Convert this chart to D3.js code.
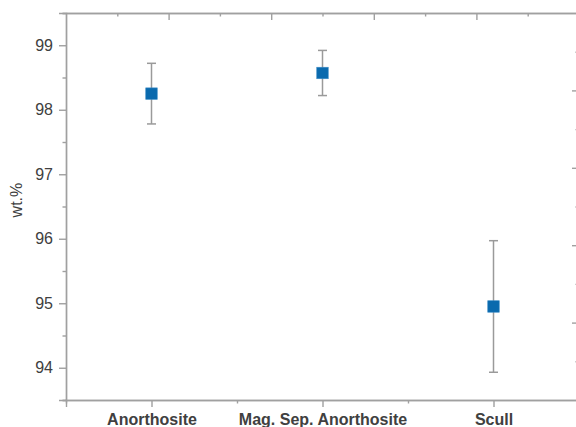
<!DOCTYPE html>
<html>
<head>
<meta charset="utf-8">
<script src="https://cdn.jsdelivr.net/npm/d3@7"></script>
<style>
  html, body { margin: 0; padding: 0; background: #fff; }
  svg { display: block; }
</style>
</head>
<body>
<svg id="chart" width="576" height="427"></svg>
<script>
const categories = ["Anorthosite", "Mag. Sep. Anorthosite", "Scull"];
const values = [98.25, 98.57, 94.95];
const errors = [0.47, 0.35, 1.02];
const yMajorTicks = [94, 95, 96, 97, 98, 99];
const yMinorTicks = [93.5, 94.5, 95.5, 96.5, 97.5, 98.5, 99.5];
const secMajorTicks = [1, 2, 3, 4];
const secMinorTicks = [0.5, 1.5, 2.5, 3.5, 4.5];
const yLabel = "wt.%";

(function () {
const svg = d3.select("#chart");
const mLeft = 66, mRight = 579, mTop = 13, mBottom = 400;
const axisColor = "#a0a0a0";
const textColor = "#404040";

const x = d3.scaleLinear().domain([0.5, 3.5]).range([mLeft, mRight]);
const y = d3.scaleLinear().domain([93.5, 99.5]).range([mBottom, mTop]);
const xTop = d3.scaleLinear().domain([0, 5]).range([mLeft, mRight]);
const yRight = d3.scaleLinear().domain([0, 5]).range([mBottom, mTop]);

function styleAxis(g) {
  g.selectAll("path.domain").attr("stroke", axisColor).attr("stroke-width", 1.4);
  g.selectAll(".tick line").attr("stroke", axisColor).attr("stroke-width", 1.4);
  g.selectAll(".tick text").attr("fill", textColor);
}

const gLeft = svg.append("g").attr("transform", `translate(${mLeft},0)`)
  .call(d3.axisLeft(y).tickValues(yMajorTicks).tickSize(7).tickPadding(6).tickFormat(d3.format("d")));
gLeft.selectAll(".tick text").attr("font-family", "Liberation Sans, Arial, sans-serif").attr("font-size", 16);
styleAxis(gLeft);
const gLeftMinor = svg.append("g").attr("transform", `translate(${mLeft},0)`)
  .call(d3.axisLeft(y).tickValues(yMinorTicks).tickSize(3.5).tickFormat(""));
styleAxis(gLeftMinor);

const gBottom = svg.append("g").attr("transform", `translate(0,${mBottom})`)
  .call(d3.axisBottom(x).tickValues([1, 2, 3]).tickSize(7).tickPadding(6)
    .tickFormat((d) => categories[d - 1]));
gBottom.selectAll(".tick text")
  .attr("font-family", "Liberation Sans, Arial, sans-serif")
  .attr("font-size", 16).attr("font-weight", "bold").attr("dy", "0.75em");
styleAxis(gBottom);
const gBottomMinor = svg.append("g").attr("transform", `translate(0,${mBottom})`)
  .call(d3.axisBottom(x).tickValues([1.5, 2.5]).tickSize(3.5).tickFormat(""));
styleAxis(gBottomMinor);

const gTop = svg.append("g").attr("transform", `translate(0,${mTop})`)
  .call(d3.axisBottom(xTop).tickValues(secMajorTicks).tickSize(7).tickSizeOuter(0).tickFormat(""));
styleAxis(gTop);
const gTopMinor = svg.append("g").attr("transform", `translate(0,${mTop})`)
  .call(d3.axisBottom(xTop).tickValues(secMinorTicks).tickSize(3.5).tickSizeOuter(0).tickFormat(""));
styleAxis(gTopMinor);

const gRight = svg.append("g").attr("transform", `translate(${mRight},0)`)
  .call(d3.axisLeft(yRight).tickValues(secMajorTicks).tickSize(7).tickSizeOuter(0).tickFormat(""));
styleAxis(gRight);
const gRightMinor = svg.append("g").attr("transform", `translate(${mRight},0)`)
  .call(d3.axisLeft(yRight).tickValues(secMinorTicks).tickSize(3.5).tickSizeOuter(0).tickFormat(""));
styleAxis(gRightMinor);

svg.append("text")
  .attr("transform", `translate(22,${y(96.6)}) rotate(-90)`)
  .attr("text-anchor", "middle")
  .attr("font-family", "Liberation Sans, Arial, sans-serif")
  .attr("font-size", 16)
  .attr("fill", textColor)
  .text(yLabel);

const data = categories.map((c, i) => ({ i: i + 1, v: values[i], e: errors[i] }));
const capW = 9;
const pts = svg.append("g");
const eb = pts.selectAll("g.eb").data(data).join("g").attr("class", "eb");
eb.append("line")
  .attr("x1", (d) => x(d.i)).attr("x2", (d) => x(d.i))
  .attr("y1", (d) => y(d.v - d.e)).attr("y2", (d) => y(d.v + d.e))
  .attr("stroke", "#9a9a9a").attr("stroke-width", 1.5);
eb.append("line")
  .attr("x1", (d) => x(d.i) - capW / 2).attr("x2", (d) => x(d.i) + capW / 2)
  .attr("y1", (d) => y(d.v + d.e)).attr("y2", (d) => y(d.v + d.e))
  .attr("stroke", "#9a9a9a").attr("stroke-width", 1.5);
eb.append("line")
  .attr("x1", (d) => x(d.i) - capW / 2).attr("x2", (d) => x(d.i) + capW / 2)
  .attr("y1", (d) => y(d.v - d.e)).attr("y2", (d) => y(d.v - d.e))
  .attr("stroke", "#9a9a9a").attr("stroke-width", 1.5);
const ms = 11.5;
pts.selectAll("rect.m").data(data).join("rect").attr("class", "m")
  .attr("x", (d) => x(d.i) - ms / 2).attr("y", (d) => y(d.v) - ms / 2)
  .attr("width", ms).attr("height", ms)
  .attr("fill", "#0a6aae").attr("stroke", "#3c8cc6").attr("stroke-width", 0.6);
})();
</script>
</body>
</html>
